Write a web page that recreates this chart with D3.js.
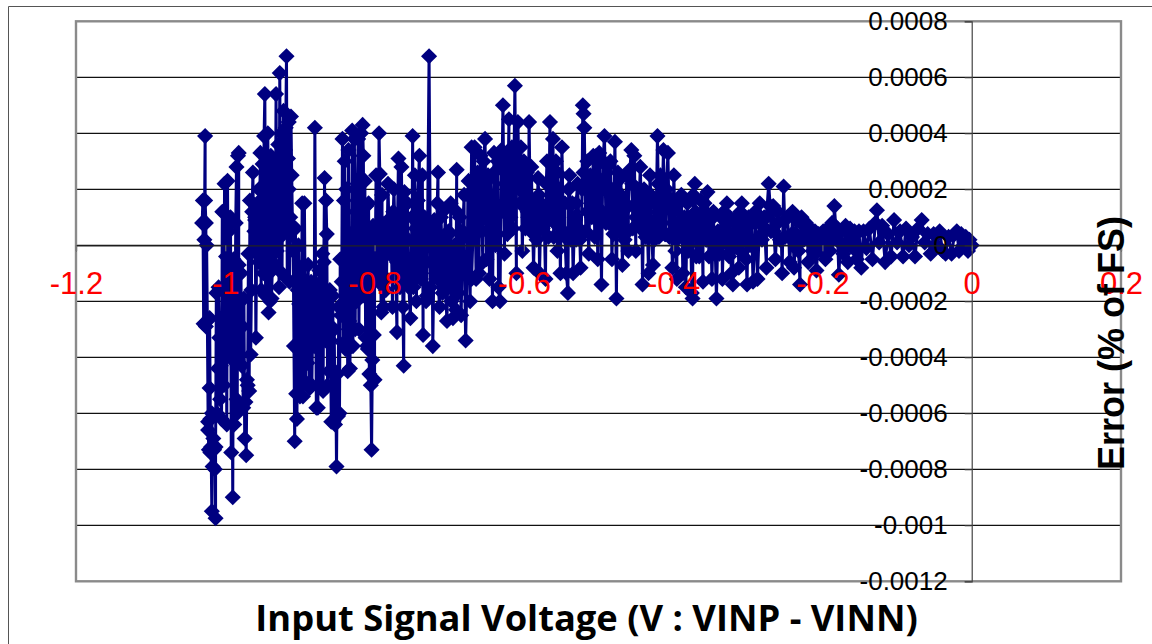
<!DOCTYPE html>
<html>
<head>
<meta charset="utf-8">
<style>
html, body { margin: 0; padding: 0; background: #fff; }
svg { display: block; }
</style>
<script src="https://d3js.org/d3.v7.min.js"></script>
</head>
<body>
<div id="chart"></div>
<script>
// input voltage of each sample
var voltages = [
-1.031,-1.030,-1.029,-1.028,-1.027,-1.027,-1.026,-1.026,-1.025,-1.024,
-1.023,-1.023,-1.022,-1.021,-1.021,-1.020,-1.020,-1.019,-1.018,-1.018,
-1.017,-1.016,-1.015,-1.014,-1.013,-1.013,-1.012,-1.011,-1.010,-1.009,
-1.008,-1.007,-1.006,-1.005,-1.004,-1.003,-1.002,-1.001,-1.000,-.999,
-.998,-.997,-.996,-.995,-.994,-.993,-.992,-.991,-.990,-.989,
-.988,-.987,-.986,-.985,-.985,-.984,-.983,-.982,-.982,-.981,
-.980,-.979,-.978,-.977,-.976,-.975,-.974,-.973,-.972,-.971,
-.970,-.969,-.968,-.967,-.966,-.965,-.964,-.963,-.962,-.961,
-.960,-.959,-.958,-.957,-.956,-.955,-.954,-.953,-.952,-.951,
-.950,-.949,-.948,-.947,-.946,-.945,-.944,-.943,-.942,-.941,
-.940,-.939,-.938,-.937,-.936,-.935,-.934,-.933,-.932,-.931,
-.930,-.929,-.928,-.927,-.926,-.925,-.924,-.923,-.922,-.921,
-.920,-.919,-.918,-.917,-.916,-.915,-.914,-.913,-.912,-.911,
-.910,-.909,-.908,-.907,-.906,-.905,-.904,-.903,-.902,-.901,
-.900,-.899,-.898,-.897,-.896,-.895,-.894,-.893,-.892,-.891,
-.890,-.889,-.888,-.887,-.886,-.885,-.884,-.883,-.882,-.881,
-.880,-.879,-.878,-.877,-.876,-.875,-.874,-.873,-.872,-.871,
-.870,-.869,-.868,-.867,-.866,-.865,-.864,-.863,-.862,-.861,
-.860,-.859,-.858,-.857,-.856,-.855,-.854,-.853,-.852,-.851,
-.850,-.849,-.848,-.847,-.846,-.845,-.844,-.843,-.842,-.841,
-.840,-.839,-.838,-.837,-.836,-.835,-.834,-.833,-.832,-.831,
-.830,-.829,-.828,-.827,-.826,-.825,-.824,-.823,-.822,-.821,
-.820,-.819,-.818,-.817,-.816,-.815,-.814,-.813,-.812,-.811,
-.810,-.809,-.808,-.807,-.806,-.805,-.804,-.803,-.802,-.801,
-.800,-.799,-.798,-.797,-.796,-.795,-.794,-.793,-.792,-.791,
-.790,-.788,-.786,-.784,-.782,-.780,-.778,-.776,-.774,-.772,
-.770,-.768,-.766,-.764,-.762,-.761,-.760,-.758,-.756,-.754,
-.752,-.750,-.749,-.748,-.746,-.744,-.742,-.740,-.738,-.736,
-.735,-.733,-.731,-.729,-.727,-.725,-.723,-.722,-.720,-.718,
-.716,-.715,-.713,-.711,-.709,-.707,-.705,-.703,-.701,-.699,
-.698,-.697,-.695,-.693,-.691,-.690,-.688,-.686,-.684,-.682,
-.680,-.678,-.676,-.674,-.672,-.670,-.668,-.666,-.664,-.662,
-.660,-.658,-.656,-.654,-.652,-.650,-.648,-.646,-.644,-.642,
-.640,-.638,-.636,-.634,-.632,-.630,-.628,-.626,-.624,-.622,
-.620,-.618,-.616,-.614,-.612,-.610,-.608,-.606,-.604,-.602,
-.600,-.598,-.596,-.594,-.593,-.591,-.589,-.587,-.585,-.583,
-.581,-.579,-.577,-.575,-.573,-.571,-.569,-.567,-.565,-.563,
-.561,-.559,-.557,-.555,-.553,-.551,-.549,-.547,-.545,-.543,
-.541,-.539,-.537,-.535,-.534,-.532,-.530,-.528,-.526,-.524,
-.522,-.521,-.520,-.519,-.517,-.515,-.513,-.511,-.509,-.507,
-.505,-.503,-.501,-.499,-.497,-.496,-.494,-.492,-.490,-.488,
-.486,-.484,-.482,-.480,-.478,-.476,-.474,-.472,-.470,-.468,
-.466,-.464,-.462,-.460,-.458,-.456,-.454,-.452,-.450,-.448,
-.446,-.444,-.442,-.441,-.439,-.437,-.435,-.433,-.431,-.429,
-.427,-.425,-.423,-.421,-.419,-.417,-.415,-.413,-.411,-.409,
-.407,-.405,-.403,-.401,-.399,-.397,-.395,-.393,-.391,-.389,
-.387,-.385,-.383,-.381,-.379,-.377,-.375,-.374,-.373,-.371,
-.369,-.367,-.365,-.363,-.361,-.360,-.358,-.356,-.354,-.352,
-.350,-.348,-.346,-.344,-.342,-.340,-.338,-.336,-.334,-.332,
-.330,-.328,-.326,-.324,-.322,-.320,-.318,-.316,-.314,-.312,
-.310,-.308,-.306,-.304,-.302,-.301,-.299,-.297,-.295,-.293,
-.290,-.287,-.284,-.281,-.278,-.275,-.272,-.269,-.266,-.263,
-.260,-.257,-.254,-.252,-.250,-.247,-.244,-.241,-.238,-.235,
-.232,-.230,-.228,-.225,-.222,-.219,-.216,-.213,-.210,-.208,
-.205,-.202,-.199,-.196,-.193,-.190,-.187,-.184,-.181,-.178,
-.175,-.172,-.169,-.166,-.163,-.160,-.157,-.154,-.151,-.148,
-.145,-.141,-.137,-.133,-.129,-.127,-.124,-.120,-.116,-.112,
-.108,-.104,-.100,-.096,-.092,-.088,-.084,-.080,-.076,-.072,
-.067,-.063,-.059,-.055,-.051,-.047,-.043,-.039,-.035,-.031,
-.027,-.023,-.020,-.017,-.014,-.011,-.008,-.005,-.003,0
]

// error of each sample, in units of 0.0001 % of FS
var errors = [
0.8,1.6,-2.8,0.2,3.9,1.6,0.8,-2.9,0.0,-2.7,
-6.3,-6.6,-7.3,-5.1,-2.6,-6.2,-7.4,-7.2,-9.5,-6.0,
-7.9,-6.9,-7.3,-8.0,-9.75,-7.2,-1.7,-6.0,-4.4,-1.5,
-3.3,-5.5,-4.3,-6.2,1.2,1.2,-5.0,2.2,-3.0,-0.4,
-6.4,2.3,-2.8,0.5,-4.0,1.0,-7.4,-2.5,-9.0,-0.5,
-6.4,-3.5,0.8,2.8,-5.5,-6.0,3.2,3.3,-0.7,-4.2,
-2.9,-1.0,-4.3,-2.9,-5.8,-1.9,-6.9,-5.6,-7.5,-4.8,
-5.0,-0.3,-5.2,1.6,-3.9,-1.6,1.2,2.6,-0.2,0.5,
0.9,-3.3,-0.1,1.5,0.4,-0.6,1.1,3.3,-1.6,1.0,
2.9,-1.0,3.9,5.4,-1.8,-0.4,2.6,4.0,-2.4,-1.0,
-2.0,3.2,-1.9,-0.8,0.9,3.0,1.9,-0.7,5.4,-0.2,
1.9,3.6,-1.5,6.15,0.3,4.0,-1.0,2.5,4.8,0.5,
3.0,4.2,6.75,-1.2,3.1,4.4,-1.3,1.0,4.6,2.5,
0.7,-0.2,-3.6,-7.0,0.6,-5.3,-6.2,-1.6,0.0,-2.1,
-5.4,-0.8,-2.5,1.5,-5.4,-1.2,1.5,-1.9,-4.9,-2.5,
-4.2,-0.7,-3.0,-5.1,-2.2,-1.3,-5.0,-2.9,-1.9,-3.6,
4.2,-1.5,-5.8,-1.4,-5.8,-3.1,-0.9,-5.0,-1.5,-2.5,
-0.3,-5.2,-0.6,2.4,-3.4,1.6,0.4,-5.0,-2.5,-4.5,
-1.6,-3.4,-6.3,-4.4,-1.8,-6.3,-3.0,-6.4,-4.6,-7.9,
-4.6,-6.1,-2.2,-6.0,-0.5,-2.5,-1.3,3.8,-3.5,1.6,
3.0,-3.7,2.0,-0.5,-4.5,3.4,-2.7,-4.4,-1.2,-3.6,
4.1,-3.6,0.5,3.8,-3.0,1.2,-2.0,2.2,3.8,-3.0,
0.7,-0.2,4.0,-1.8,4.3,3.2,-1.8,2.3,-3.3,1.4,
-3.6,-3.7,1.5,-4.6,0.5,-5.0,-7.3,-4.1,0.7,-3.2,
-4.8,-0.3,2.5,-0.5,0.2,-1.3,4.0,2.55,-1.0,-2.4,
1.8,-2.2,0.5,-1.2,2.2,-0.3,1.0,-2.2,2.0,-0.4,
-3.1,3.1,-1.5,2.8,-2.2,-4.3,1.9,-1.0,1.5,-1.5,
-2.6,1.0,3.9,-1.5,2.5,-2.0,1.6,3.2,-1.2,2.5,
-3.2,1.0,-2.0,0.5,6.75,-1.5,0.8,-3.6,0.3,-1.0,
1.5,2.6,-2.2,1.0,-1.7,-0.5,1.3,-2.7,0.5,-1.5,
1.5,-2.0,-2.6,0.0,-2.3,2.7,-1.7,1.0,-2.5,0.5,
1.8,-3.4,-1.0,2.3,-2.0,3.5,0.5,3.5,-1.2,2.6,
-1.0,3.2,0.5,3.0,3.8,-0.5,2.5,-1.2,1.6,-2.0,
3.3,0.0,2.7,-1.5,-2.0,3.4,5.0,-0.3,3.0,0.4,
4.5,1.0,3.5,1.5,5.7,-1.0,4.4,2.0,3.5,-0.2,
3.0,0.6,2.6,1.0,4.4,0.5,1.5,-0.8,1.5,0.2,
2.4,-1.0,1.5,0.6,1.2,-1.2,3.0,0.3,4.4,1.0,
3.8,0.8,3.0,-0.2,2.0,-1.0,3.5,0.5,1.5,-1.0,
-1.7,2.5,0.2,1.5,-1.0,1.0,0.2,2.2,0.6,-0.8,
2.0,5.0,4.7,4.2,0.5,3.0,-0.3,2.5,1.0,3.2,
0.3,3.2,-0.5,3.3,0.8,-1.4,3.0,3.9,0.8,2.8,
0.8,3.0,-0.5,2.0,3.7,-1.9,2.6,0.5,1.8,-0.7,
1.5,0.4,2.5,-0.2,2.7,3.4,0.6,3.2,-0.2,2.0,
0.8,2.8,0.8,-1.4,2.0,0.3,1.8,-1.0,2.5,0.6,
-0.7,1.5,0.6,3.9,0.3,2.5,0.8,3.4,0.4,2.0,
3.3,0.3,1.5,-0.8,2.5,-0.2,-1.2,1.5,0.5,1.8,
-1.0,1.0,-1.5,1.5,0.0,1.0,-1.7,-1.9,1.8,2.2,
-0.4,1.0,0.2,1.6,0.3,-1.3,1.5,0.2,1.9,-0.4,
1.0,-1.2,1.2,0.3,-1.9,0.5,-0.3,1.0,-1.2,1.2,
0.1,1.5,-0.3,1.0,-1.0,-1.4,0.8,0.0,1.0,-0.8,
1.2,1.5,0.2,1.0,-0.5,-1.4,1.0,0.0,1.0,-1.3,
0.8,-1.2,1.5,0.2,1.0,-0.8,2.2,0.5,1.4,-0.5,
1.2,0.2,-1.0,2.1,0.3,1.0,-0.6,0.4,-0.8,0.9,
-0.2,-1.4,1.0,0.2,0.8,-0.6,0.6,-0.2,0.5,-0.9,
0.4,-0.2,0.5,-0.5,0.6,0.1,0.8,1.4,0.2,-1.05,
0.5,-0.3,0.7,-0.6,0.6,0.0,0.5,-0.5,0.5,-0.8,
0.5,-0.1,0.6,-0.5,0.8,1.25,0.1,0.7,-0.6,0.4,
-0.4,0.9,0.1,0.5,-0.4,0.6,0.0,0.3,-0.4,0.6,
0.9,0.1,0.4,-0.3,0.4,0.0,0.5,-0.2,-0.3,0.3,
-0.3,0.4,0.5,-0.2,0.4,0.0,0.3,-0.2,0.2,0.0
]

// samples inside the solid parts of the trace, merged with the ones above
var coreVoltages = [
-.960,-.955,-.950,-.945,-.940,-.935,-.930,-.925,-.920,-.915,
-.800,-.795,-.790,-.785,-.780,-.775,-.770,-.765,-.760,-.755,
-.750,-.745,-.740,-.735,-.730,-.725,-.720,-.715,-.710,-.705,
-.700,-.695,-.690,-.685,-.680,-.675,-.670,-.665,-.660,-.655,
-.650,-.645,-.640,-.635,-.630,-.625,-.620,-.615,-.610,-.605,
-.600,-.595,-.590,-.585,-.580,-.575,-.570,-.565,-.560,-.555,
-.550,-.545,-.540,-.535,-.530,-.525,-.520,-.515,-.510,-.505,
-.500,-.495,-.490,-.485,-.480,-.475,-.470,-.465,-.460,-.455,
-.450,-.445,-.440,-.435,-.430,-.425,-.420,-.415,-.410,-.405,
-.400,-.395,-.390,-.385,-.380,-.375,-.370,-.365,-.360,-.355,
-.350,-.345,-.340,-.335,-.330,-.325,-.320,-.315,-.310,-.305,
-.300,-.295,-.290,-.285,-.280,-.275,-.270,-.265,-.260,-.255,
-.250,-.245,-.240,-.235,-.230,-.225,-.220,-.215,-.210,-.205,
-.200,-.195,-.190,-.185,-.180,-.175,-.170,-.165,-.160,-.155
]

var coreErrors = [
1.0,2.0,0.5,1.8,2.8,0.8,2.4,1.2,3.4,2.0,
0.5,-0.8,0.8,-1.6,0.4,1.2,-0.6,0.6,-1.2,0.2,
-0.8,0.6,-1.0,0.4,-1.8,-0.6,0.9,-1.2,0.2,-1.6,
0.4,-0.8,1.2,-1.0,0.3,1.8,-1.2,0.9,2.1,-0.6,
1.3,2.4,0.2,3.0,1.2,2.2,3.2,0.6,2.8,1.5,
2.2,1.2,2.8,0.4,1.8,0.6,2.2,1.4,0.3,2.6,
1.5,0.3,2.0,0.5,1.5,0.2,2.6,1.2,2.0,1.2,
2.4,1.2,2.0,1.2,0.4,1.2,2.4,0.2,1.4,2.2,
1.0,2.0,0.5,1.2,1.8,0.2,2.2,1.2,0.4,1.7,
1.2,0.2,0.9,0.4,-0.2,0.7,1.2,-0.4,0.6,0.2,
0.9,-0.3,0.3,1.1,0.5,-0.4,0.4,1.0,-0.2,0.6,
0.2,0.8,1.2,0.3,0.7,1.0,1.4,0.5,0.8,0.2,
0.9,0.3,1.2,0.4,0.1,0.7,0.3,0.1,-0.3,0.2,
0.0,0.4,-0.2,0.3,0.6,0.1,-0.1,0.4,0.2,-0.2
]

var xTicks = [-1.2, -1, -0.8, -0.6, -0.4, -0.2, 0, 0.2]
var xTickLabels = ["-1.2", "-1", "-0.8", "-0.6", "-0.4", "-0.2", "0", "0.2"]
var yTicks = [8, 6, 4, 2, 0, -2, -4, -6, -8, -10, -12]
var yTickLabels = ["0.0008", "0.0006", "0.0004", "0.0002", "0", "-0.0002", "-0.0004", "-0.0006", "-0.0008", "-0.001", "-0.0012"]

var xTitle = "Input Signal Voltage (V : VINP - VINN)"
var yTitle = "Error (% of FS)"

var width = 1152, height = 644
var svg = d3.select("#chart").append("svg").attr("width", width).attr("height", height)

var x = d3.scaleLinear().domain([-1.2, 0.2]).range([76, 1121])
var y = d3.scaleLinear().domain([-12, 8]).range([581.3, 21.3])

// page frame left by the original screenshot
svg.append("path")
    .attr("d", "M8.5," + height + "V6.5H" + width)
    .attr("fill", "none")
    .attr("stroke", "#555")
    .attr("stroke-width", 1)

// grid, the outer two lines belong to the plot border
svg.append("g").selectAll("line")
    .data(yTicks.slice(1, -1))
    .enter().append("line")
    .attr("x1", x.range()[0])
    .attr("x2", x.range()[1])
    .attr("y1", function(d) { return y(d) })
    .attr("y2", function(d) { return y(d) })
    .attr("stroke", "#111")
    .attr("stroke-width", 1.3)

svg.append("rect")
    .attr("x", x.range()[0])
    .attr("y", y.range()[1])
    .attr("width", x.range()[1] - x.range()[0])
    .attr("height", y.range()[0] - y.range()[1])
    .attr("fill", "none")
    .attr("stroke", "#8a8a8a")
    .attr("stroke-width", 2.4)

// axes cross at zero, labels are put on afterwards so they sit above the data
var yAxis = d3.axisLeft(y).tickValues(yTicks).tickSize(7).tickFormat(function(d, i) { return yTickLabels[i] })
var xAxis = d3.axisBottom(x).tickValues(xTicks).tickSize(6).tickFormat(function(d, i) { return xTickLabels[i] })

var yAxisG = svg.append("g").attr("transform", "translate(" + x(0) + ",0)").call(yAxis)
var xAxisG = svg.append("g").attr("transform", "translate(0," + y(0) + ")").call(xAxis)
yAxisG.select(".domain").attr("stroke", "#444").attr("stroke-width", 1.2)
yAxisG.selectAll(".tick line").attr("stroke", "#444")
xAxisG.select(".domain").attr("stroke", "#222").attr("stroke-width", 1.2)
xAxisG.selectAll(".tick line").attr("stroke", "#777")

var points = d3.zip(voltages.concat(coreVoltages), errors.concat(coreErrors))
    .sort(function(a, b) { return d3.ascending(a[0], b[0]) })

var line = d3.line()
    .x(function(d) { return x(d[0]) })
    .y(function(d) { return y(d[1]) })

svg.append("path")
    .datum(points)
    .attr("d", line)
    .attr("fill", "none")
    .attr("stroke", "#000080")
    .attr("stroke-width", 3)

var marker = d3.symbol().type(d3.symbolSquare).size(130)
svg.append("g").selectAll("path")
    .data(points)
    .enter().append("path")
    .attr("d", marker)
    .attr("fill", "#000080")
    .attr("transform", function(d) {
        return "translate(" + x(d[0]) + "," + y(d[1]) + ") rotate(45)"
    })

// move the axis labels on top of the markers
yAxisG.raise()
xAxisG.raise()
yAxisG.selectAll("text")
    .attr("x", -24)
    .attr("fill", "#000")
    .style("font-family", "'Liberation Sans', Arial, sans-serif")
    .style("font-size", "26px")
xAxisG.selectAll("text")
    .attr("y", 27)
    .attr("fill", "#ff0000")
    .style("font-family", "'Liberation Sans', Arial, sans-serif")
    .style("font-size", "31px")

svg.append("text")
    .attr("x", 586.5)
    .attr("y", 631)
    .attr("text-anchor", "middle")
    .style("font-family", "'Open Sans', 'Noto Sans', sans-serif")
    .style("font-weight", "bold")
    .style("font-size", "36.3px")
    .text(xTitle)

svg.append("text")
    .attr("transform", "translate(1124,343) rotate(-90)")
    .attr("text-anchor", "middle")
    .style("font-family", "'Liberation Sans', Arial, sans-serif")
    .style("font-weight", "bold")
    .style("font-size", "36px")
    .text(yTitle)
</script>
</body>
</html>
